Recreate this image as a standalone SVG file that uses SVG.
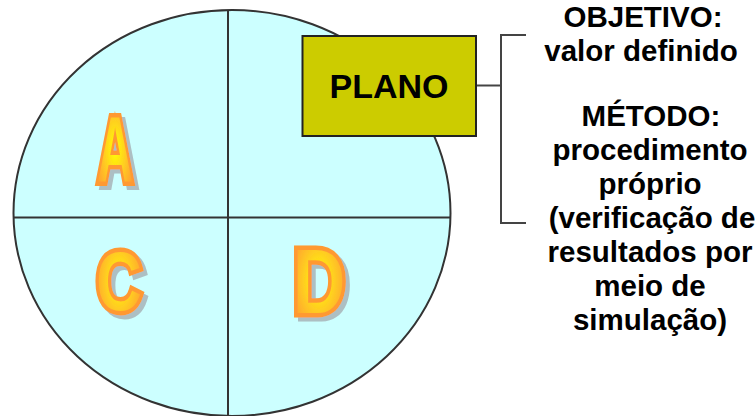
<svg xmlns="http://www.w3.org/2000/svg" width="756" height="416" viewBox="0 0 756 416">
<defs>
<radialGradient id="g" cx="0.5" cy="0.5" r="0.6">
<stop offset="0" stop-color="#FFFF00"/>
<stop offset="0.5" stop-color="#FFCC22"/>
<stop offset="1" stop-color="#FF9933"/>
</radialGradient>
<filter id="shadow" x="-20%" y="-20%" width="150%" height="150%">
<feOffset in="SourceAlpha" dx="4" dy="4" result="o"/>
<feFlood flood-color="#A8B4B8" flood-opacity="0.85"/>
<feComposite in2="o" operator="in" result="s"/>
<feMerge><feMergeNode in="s"/><feMergeNode in="SourceGraphic"/></feMerge>
</filter>
<style>
.quad{fill:#CCFFFF;stroke:#333;stroke-width:2}
.div{stroke:#333;stroke-width:2;fill:none}
.let{font-family:"Liberation Sans",Arial,sans-serif;font-weight:bold;text-anchor:middle;fill:url(#g);stroke:#FF9933;stroke-width:9;stroke-linejoin:miter;paint-order:stroke}
.lbl{font-family:"Liberation Sans",Arial,sans-serif;font-weight:bold;font-size:29.5px;text-anchor:middle;fill:#000}
.conn{stroke:#444;stroke-width:2;fill:none}
</style>
</defs>
<rect width="756" height="416" fill="#fff"/>
<g id="circle">
<ellipse class="quad" cx="232" cy="213" rx="218.5" ry="203"/>
<line class="div" x1="228" y1="10" x2="228" y2="416"/>
<line class="div" x1="13" y1="217.5" x2="451" y2="217.5"/>
</g>
<g id="letterA" filter="url(#shadow)">
<text class="let" font-size="92" transform="translate(115,180.5) scale(0.545,1)">A</text>
</g>
<g id="letterC" filter="url(#shadow)">
<text class="let" font-size="84" transform="translate(119,309.5) scale(0.75,1)">C</text>
</g>
<g id="letterD" filter="url(#shadow)">
<text class="let" font-size="91" transform="translate(319,312.5) scale(0.8,1)">D</text>
</g>
<g id="connectors">
<line class="conn" x1="476" y1="85.5" x2="501" y2="85.5"/>
<polyline class="conn" points="526,35 501,35 501,223 526,223"/>
</g>
<g id="plano">
<rect x="302.5" y="36" width="173.5" height="100" fill="#CCCC00" stroke="#222" stroke-width="2"/>
<text x="389" y="98" font-family="Liberation Sans, Arial, sans-serif" font-weight="bold" font-size="34" text-anchor="middle">PLANO</text>
</g>
<g id="objetivo">
<text class="lbl" x="643" y="27">OBJETIVO:</text>
<text class="lbl" x="641" y="61">valor definido</text>
</g>
<g id="metodo">
<text class="lbl" x="651" y="126">MÉTODO:</text>
<text class="lbl" x="650" y="160">procedimento</text>
<text class="lbl" x="650" y="194">próprio</text>
<text class="lbl" x="652" y="228">(verificação de</text>
<text class="lbl" x="650" y="262">resultados por</text>
<text class="lbl" x="650" y="296">meio de</text>
<text class="lbl" x="650" y="330">simulação)</text>
</g>
</svg>
